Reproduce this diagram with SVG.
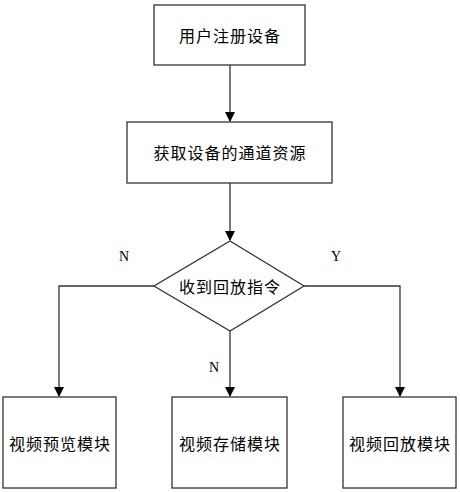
<svg xmlns="http://www.w3.org/2000/svg" width="460" height="492" viewBox="0 0 460 492">
<style>
.box{fill:#fff;stroke:#333;stroke-width:1.3}
.t{font-family:"Noto Sans CJK SC","Liberation Sans",sans-serif;font-size:16px;letter-spacing:1px;fill:#000;text-anchor:middle;dominant-baseline:central}
.l{font-family:"Liberation Serif",serif;font-size:14px;fill:#000;text-anchor:middle;dominant-baseline:central}
.c{fill:none;stroke:#333;stroke-width:1.3}
</style>
<defs>
<marker id="a" markerWidth="10" markerHeight="10" refX="9" refY="5" orient="auto" markerUnits="userSpaceOnUse">
<path d="M0,0 L10,5 L0,10 Z" fill="#000"/>
</marker>
</defs>
<rect width="460" height="492" fill="#fff"/>
<g id="connectors">
<path class="c" d="M230,65 V121" marker-end="url(#a)"/>
<path class="c" d="M230,183 V240" marker-end="url(#a)"/>
<path class="c" d="M154,286 H59 V396" marker-end="url(#a)"/>
<path class="c" d="M230,331 V396" marker-end="url(#a)"/>
<path class="c" d="M304,286 H400 V396" marker-end="url(#a)"/>
<text class="l" x="124" y="256">N</text>
<text class="l" x="336" y="256">Y</text>
<text class="l" x="214" y="367">N</text>
</g>
<g id="n1"><rect class="box" x="154" y="5" width="151" height="60"/><text class="t" x="230" y="35">用户注册设备</text></g>
<g id="n2"><rect class="box" x="127" y="122" width="205" height="61"/><text class="t" x="230" y="152">获取设备的通道资源</text></g>
<g id="n3"><path class="box" d="M230,241 L304,286 L230,331 L154,286 Z"/><text class="t" x="230" y="286">收到回放指令</text></g>
<g id="n4"><rect class="box" x="3" y="397" width="113" height="91"/><text class="t" x="60" y="443">视频预览模块</text></g>
<g id="n5"><rect class="box" x="172" y="397" width="115" height="91"/><text class="t" x="230" y="443">视频存储模块</text></g>
<g id="n6"><rect class="box" x="343" y="397" width="113" height="91"/><text class="t" x="400" y="443">视频回放模块</text></g>
</svg>
